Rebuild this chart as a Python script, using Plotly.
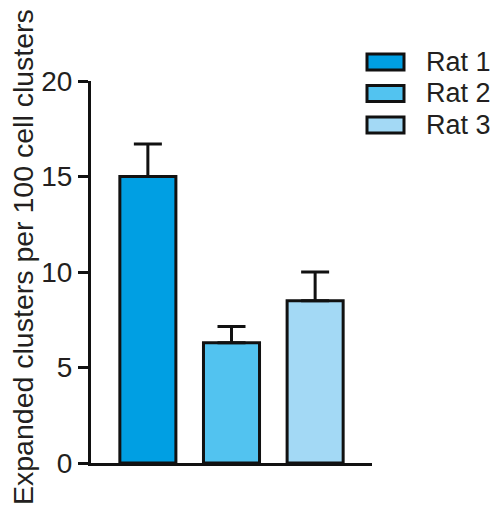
import plotly.graph_objects as go

categories = ["Rat 1", "Rat 2", "Rat 3"]
values = [15.0, 6.3, 8.5]
errors = [1.7, 0.85, 1.5]
colors = ["#009FE3", "#52C3F0", "#A3D9F5"]
y_ticks = [0, 5, 10, 15, 20]
y_title = "Expanded clusters per 100 cell clusters"

# page is 500x515; the html body has an 8px margin
OFF = 8
W, H = 500 - 2 * OFF, 515 - 2 * OFF
PX0, PX1, PY0, PY1 = 91, 372, 81, 463  # plot area in page pixels
L, R = PX0 - OFF, W - (PX1 - OFF)
T, B = PY0 - OFF, H - (PY1 - OFF)
pw, ph = PX1 - PX0, PY1 - PY0

def px2paper(x, y):
    return (x - PX0) / pw, (PY1 - y) / ph

fig = go.Figure()
fig.add_trace(go.Bar(
    x=list(range(len(categories))), y=values,
    marker=dict(color=colors, line=dict(color="#111111", width=3)),
    width=0.67,
    error_y=dict(type="data", array=errors, arrayminus=[0]*len(errors), symmetric=False,
                 color="#111111", thickness=3, width=14),
    showlegend=False,
))

font_col = "#231f20"
FAM = "Liberation Sans, Arial"
shapes, annots = [], []
for i, (cat, col) in enumerate(zip(categories, colors)):
    cy = 62 + i * 31.5
    x0, y0 = px2paper(367, cy - 8)
    x1, y1 = px2paper(404, cy + 8)
    shapes.append(dict(type="rect", xref="paper", yref="paper", x0=x0, x1=x1, y0=y1, y1=y0,
                       fillcolor=col, line=dict(color="#111111", width=3)))
    tx, ty = px2paper(424, cy)
    annots.append(dict(xref="paper", yref="paper", x=tx, y=ty, text=cat, showarrow=False,
                       xanchor="left", yanchor="middle",
                       font=dict(family=FAM, size=27, color=font_col)))

ttx, tty = px2paper(23, 257)
annots.append(dict(xref="paper", yref="paper", x=ttx, y=tty, text=y_title, showarrow=False,
                   textangle=-90, xanchor="center", yanchor="middle",
                   font=dict(family=FAM, size=28.5, color=font_col)))

fig.update_layout(
    width=W, height=H,
    margin=dict(l=L, r=R, t=T, b=B),
    plot_bgcolor="white", paper_bgcolor="white",
    shapes=shapes, annotations=annots,
    font=dict(family=FAM, size=28, color=font_col),
    xaxis=dict(range=[-0.68, 2.68], showticklabels=False, ticks="", showgrid=False,
               zeroline=False, showline=True, linecolor="#111111", linewidth=3),
    yaxis=dict(range=[0, 20], tickvals=y_ticks, ticks="outside", ticklen=10, tickwidth=3,
               tickcolor="#111111", showgrid=False, zeroline=False, showline=True,
               linecolor="#111111", linewidth=3,
               tickfont=dict(size=28)),
)
fig.write_html("out.html")
